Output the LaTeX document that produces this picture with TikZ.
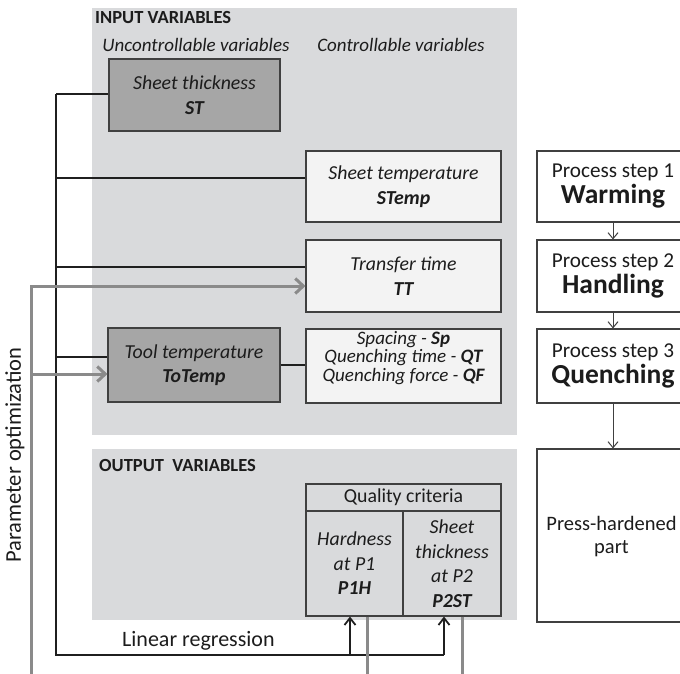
\documentclass[tikz,border=0pt]{standalone}
\usepackage{fontspec}
\setmainfont{Carlito}
\usetikzlibrary{arrows.meta}
\definecolor{panel}{HTML}{D9DADC}
\definecolor{darkbox}{HTML}{A6A6A6}
\definecolor{lightbox}{HTML}{F3F3F3}
\definecolor{graylink}{HTML}{8A8A8A}
\definecolor{txt}{HTML}{1C1C1C}
\definecolor{border}{HTML}{404040}
\begin{document}
\begin{tikzpicture}[x=1pt,y=-1pt,
  panelbox/.style={fill=panel,draw=none,inner sep=0pt},
  varbox/.style={draw=border,line width=1.1pt,inner sep=0pt,align=center,text=txt,
    font=\itshape\fontsize{19.8}{24.5}\selectfont},
  darkvar/.style={varbox,fill=darkbox},
  lightvar/.style={varbox,fill=lightbox},
  qcell/.style={draw=border,line width=1.1pt,fill=panel,inner sep=0pt,align=center,text=txt},
  stepbox/.style={draw=border,fill=white,line width=1.1pt,inner sep=0pt,align=center,text=txt,
    font=\fontsize{21.2}{24}\selectfont},
  lbl/.style={inner sep=0pt,text=txt},
  blackln/.style={line width=1.8pt,draw=black!88},
  grayln/.style={line width=3pt,draw=graylink},
  bltip/.style={-{Straight Barb[length=7pt,width=11pt,line width=1.8pt]}},
  grtip/.style={-{Straight Barb[length=8pt,width=15pt,line width=3pt]}},
  steparrow/.style={line width=1pt,draw=border,-{Straight Barb[length=6pt,width=10pt,line width=1pt]}}
]
\useasboundingbox (0,0) rectangle (680,674);
\clip (0,0) rectangle (680,674);

% panels
\node[panelbox,minimum width=425pt,minimum height=427pt] (inpanel) at (304.5,221.5) {};
\node[panelbox,minimum width=425pt,minimum height=171pt] (outpanel) at (304.5,534.5) {};

\node[lbl,anchor=west,font=\bfseries\fontsize{18.5}{20}\selectfont] (intitle) at (95,18) {INPUT VARIABLES};
\node[lbl,anchor=west,font=\bfseries\fontsize{18.5}{20}\selectfont] (outtitle) at (99,465) {OUTPUT\ \ VARIABLES};
\node[lbl,font=\itshape\fontsize{19}{20}\selectfont] (unc) at (196,45) {Uncontrollable variables};
\node[lbl,font=\itshape\fontsize{19}{20}\selectfont] (con) at (401,45) {Controllable variables};

% variable boxes
\node[darkvar,minimum width=171pt,minimum height=72pt] (ST) at (194.5,95) {Sheet thickness\\\textbf{ST}};
\node[lightvar,minimum width=195pt,minimum height=71pt] (STemp) at (403.5,186.5) {Sheet temperature\\\textbf{STemp}};
\node[lightvar,minimum width=195pt,minimum height=72pt] (TT) at (403.5,276) {Transfer time\\\textbf{TT}};
\node[lightvar,minimum width=195pt,minimum height=74pt] (SP) at (403.5,366) {};
\node[lbl,align=center,font=\itshape\fontsize{19}{18.3}\selectfont] (SPtext) at (403.5,358)
  {Spacing - \textbf{Sp}\\Quenching time - \textbf{QT}\\Quenching force - \textbf{QF}};
\node[darkvar,minimum width=172pt,minimum height=74pt] (ToTemp) at (194,365) {Tool temperature\\\textbf{ToTemp}};

% quality criteria
\node[qcell,minimum width=195pt,minimum height=27pt,font=\fontsize{19.8}{22}\selectfont] (QC) at (403.5,497.5) {Quality criteria};
\node[qcell,minimum width=97pt,minimum height=105pt,font=\itshape\fontsize{19.8}{24.5}\selectfont] (P1H) at (354.5,563.5) {Hardness\\at P1\\\textbf{P1H}};
\node[qcell,minimum width=98pt,minimum height=105pt,font=\itshape\fontsize{19.8}{24.5}\selectfont] (P2ST) at (452,563.5) {Sheet\\thickness\\at P2\\\textbf{P2ST}};

% process steps
\node[stepbox,minimum width=152pt,minimum height=71pt] (S1) at (613,186.5) {Process step 1\\[2pt]{\bfseries\fontsize{27.5}{28}\selectfont Warming}};
\node[stepbox,minimum width=152pt,minimum height=72pt] (S2) at (613,276) {Process step 2\\[2pt]{\bfseries\fontsize{27.5}{28}\selectfont Handling}};
\node[stepbox,minimum width=152pt,minimum height=74pt] (S3) at (613,366) {Process step 3\\[2pt]{\bfseries\fontsize{27.5}{28}\selectfont Quenching}};
\node[stepbox,minimum width=152pt,minimum height=173pt] (PART) at (613,535.5) {};
\node[lbl,align=center,font=\fontsize{20.5}{23}\selectfont] (PARTtext) at (611.5,537) {Press-hardened\\part};

\draw[steparrow] (S1.south) -- (S2.north);
\draw[steparrow] (S2.south) -- (S3.north);
\draw[steparrow] (S3.south) -- (PART.north);

% labels on the left and bottom
\node[lbl,rotate=90,font=\fontsize{22.5}{24}\selectfont] (popt) at (15,455) {Parameter optimization};
\node[lbl,anchor=west,font=\fontsize{22}{24}\selectfont] (linreg) at (122,641) {Linear regression};

% black regression trunk
\coordinate (tTop) at (56,94);
\coordinate (tBot) at (56,655);
\coordinate (tEnd) at (444,655);
\draw[blackln] (tTop) -- (ST.west |- tTop);
\draw[blackln] (tTop) -- (tBot) -- (tEnd);
\draw[blackln] ([yshift=8.5pt]STemp.west -| tTop) -- ([yshift=8.5pt]STemp.west);
\draw[blackln] ([yshift=9pt]TT.west -| tTop) -- ([yshift=9pt]TT.west);
\draw[blackln] ([yshift=8pt]ToTemp.west -| tTop) -- ([yshift=8pt]ToTemp.west);
\draw[blackln] (ToTemp.east) -- (SP.west |- ToTemp.east);
\draw[blackln,bltip] ([xshift=-4.5pt]P1H.south |- tBot) -- ([xshift=-4.5pt]P1H.south);
\draw[blackln,bltip] (tEnd) -- (tEnd |- P2ST.south);

% gray optimisation loop
\coordinate (gTop) at (31,286);
\coordinate (gBot) at (31,680);
\draw[grayln,grtip] (gBot) -- (gTop) -- (TT.west |- gTop);
\draw[grayln,grtip] ([yshift=-9pt]ToTemp.west -| gTop) -- ([yshift=-9pt]ToTemp.west);
\draw[grayln] ([xshift=12.5pt]P1H.south) -- ([xshift=12.5pt]P1H.south |- gBot);
\draw[grayln] ([xshift=10pt]P2ST.south) -- ([xshift=10pt]P2ST.south |- gBot);
\end{tikzpicture}
\end{document}
